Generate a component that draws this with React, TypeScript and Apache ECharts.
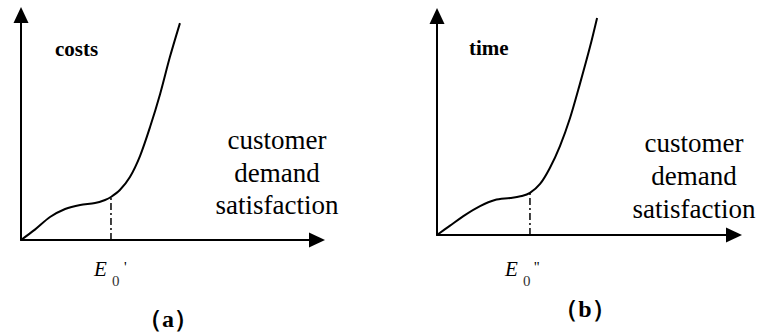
import React, { useEffect, useRef } from "react";
import * as echarts from "echarts";

// Panel (a): costs vs customer demand satisfaction (x, y in 0-100 units)
const costsCurve: [number, number][] = [
  [0, 0], [4.7, 4.6], [9.8, 10.2], [14.9, 13.8], [20.0, 15.6], [25.0, 16.4],
  [28.4, 17.8], [30.4, 19.1], [33.4, 22.2], [36.8, 28.0], [40.2, 37.3],
  [43.6, 50.2], [47.0, 64.9], [50.3, 81.3], [53.7, 96.4],
];
const costsE0: [number, number][] = [[30.4, 0], [30.4, 19.1]];

// Panel (b): time vs customer demand satisfaction
const timeCurve: [number, number][] = [
  [0, 0], [4.4, 4.3], [9.4, 9.1], [14.5, 13.2], [19.5, 16.0], [24.6, 16.9],
  [28.6, 17.8], [31.3, 19.2], [34.7, 23.3], [38.0, 30.6], [41.4, 40.6],
  [44.8, 53.4], [48.1, 68.9], [51.5, 85.8], [53.9, 99.1],
];
const timeE0: [number, number][] = [[31.3, 0], [31.3, 19.2]];

const yLabels = ["costs", "time"];
const xLabelLines = ["customer", "demand", "satisfaction"];
const panelLabels = ["（a）", "（b）"];
const e0Primes = ["'", "''"];

const SERIF = "Liberation Serif";

export default function App() {
  const ref = useRef<HTMLDivElement>(null);
  useEffect(() => {
    document.body.style.margin = "0";
    const chart = echarts.init(ref.current!, null, { renderer: "svg" });
    const axisCommon = {
      type: "value" as const,
      min: 0,
      max: 100,
      axisTick: { show: false },
      axisLabel: { show: false },
      splitLine: { show: false },
      axisLine: {
        show: true,
        onZero: false,
        symbol: ["none", "triangle"],
        symbolSize: [15, 16],
        lineStyle: { color: "#000", width: 2 },
      },
    };
    const curveStyle = { color: "#000", width: 2 };
    const dashStyle = { color: "#000", width: 1.5, type: [7, 3, 2, 3] as number[] };
    const textLine = (
      x: number,
      y: number,
      text: string,
      opts: { size?: number; weight?: string; italic?: boolean; align?: string; vAlign?: string; color?: string } = {}
    ) => ({
      type: "text",
      x,
      y,
      style: {
        text,
        fontFamily: SERIF,
        fontSize: opts.size ?? 27,
        fontWeight: opts.weight ?? "normal",
        fontStyle: opts.italic ? "italic" : "normal",
        fill: opts.color ?? "#000",
        align: opts.align ?? "center",
        verticalAlign: opts.vAlign ?? "middle",
      },
    });
    const graphics: any[] = [
      // y labels
      textLine(55, 49, yLabels[0], { size: 21, weight: "bold", align: "left" }),
      textLine(469, 48, yLabels[1], { size: 21, weight: "bold", align: "left" }),
      // x labels panel a
      textLine(277, 140, xLabelLines[0]),
      textLine(277, 173, xLabelLines[1]),
      textLine(277, 205, xLabelLines[2]),
      // x labels panel b
      textLine(694, 143, xLabelLines[0]),
      textLine(694, 176, xLabelLines[1]),
      textLine(694, 209, xLabelLines[2]),
      // E0 labels
      textLine(94, 279, "E", { size: 21, italic: true, align: "left", vAlign: "bottom" }),
      textLine(112, 288, "0", { size: 15, align: "left", vAlign: "bottom", color: "#333" }),
      textLine(124, 274, e0Primes[0], { size: 15, align: "left", vAlign: "bottom" }),
      textLine(505, 279, "E", { size: 21, italic: true, align: "left", vAlign: "bottom" }),
      textLine(523, 288, "0", { size: 15, align: "left", vAlign: "bottom", color: "#333" }),
      textLine(534, 274, e0Primes[1], { size: 15, align: "left", vAlign: "bottom" }),
      // panel labels
      textLine(168, 319, panelLabels[0], { size: 24, weight: "bold" }),
      textLine(585, 309, panelLabels[1], { size: 24, weight: "bold" }),
    ];
    chart.setOption({
      animation: false,
      backgroundColor: "#fff",
      grid: [
        { left: 21, top: 15, width: 296, height: 225 },
        { left: 437, top: 16, width: 297, height: 219 },
      ],
      xAxis: [
        { ...axisCommon, gridIndex: 0 },
        { ...axisCommon, gridIndex: 1 },
      ],
      yAxis: [
        { ...axisCommon, gridIndex: 0 },
        { ...axisCommon, gridIndex: 1 },
      ],
      series: [
        { type: "line", xAxisIndex: 0, yAxisIndex: 0, data: costsCurve, smooth: 0.3, symbol: "none", lineStyle: curveStyle },
        { type: "line", xAxisIndex: 0, yAxisIndex: 0, data: costsE0, symbol: "none", lineStyle: dashStyle },
        { type: "line", xAxisIndex: 1, yAxisIndex: 1, data: timeCurve, smooth: 0.3, symbol: "none", lineStyle: curveStyle },
        { type: "line", xAxisIndex: 1, yAxisIndex: 1, data: timeE0, symbol: "none", lineStyle: dashStyle },
      ],
      graphic: graphics,
    });
    return () => chart.dispose();
  }, []);
  return <div ref={ref} style={{ width: 760, height: 333 }} />;
}
